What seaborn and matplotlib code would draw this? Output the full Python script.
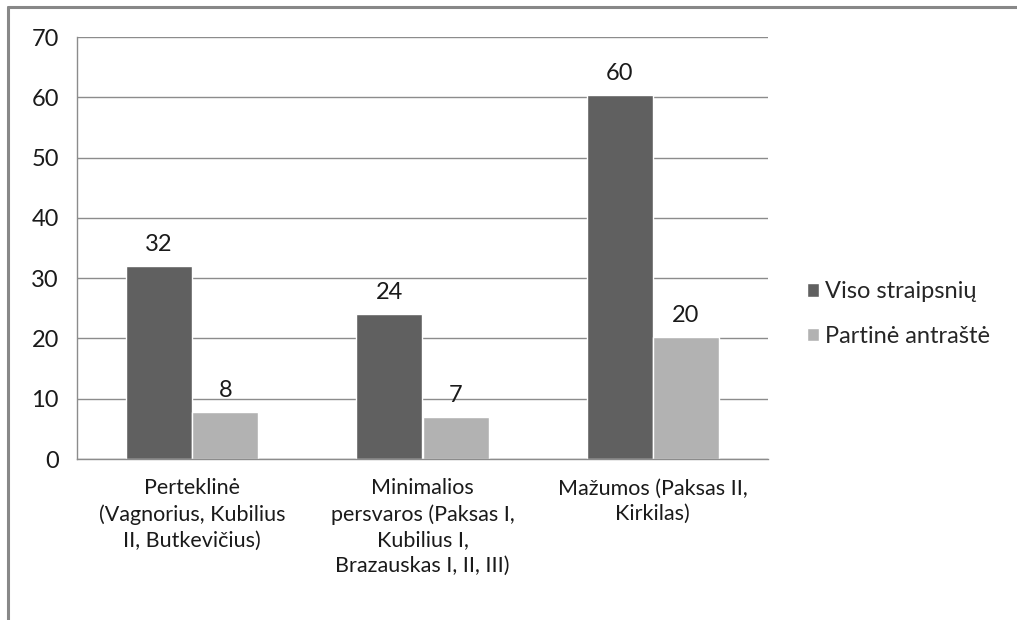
import pandas as pd
import matplotlib
matplotlib.use('Agg')
import matplotlib.pyplot as plt
import seaborn as sns

# chart values
categories = ['Perteklinė\n(Vagnorius, Kubilius\nII, Butkevičius)',
              'Minimalios\npersvaros (Paksas I,\nKubilius I,\nBrazauskas I, II, III)',
              'Mažumos (Paksas II,\nKirkilas)']
series_names = ['Viso straipsnių', 'Partinė antraštė']
viso = [32, 24, 60.4]
partine = [7.8, 7, 20.3]
y_ticks = [0, 10, 20, 30, 40, 50, 60, 70]

df = pd.DataFrame({
    'cat': categories * 2,
    'val': viso + partine,
    'series': [series_names[0]] * 3 + [series_names[1]] * 3,
})

sns.set_style('white')
plt.rcParams['font.family'] = ['Lato', 'DejaVu Sans']

grid_col = '#8c8c8c'
txt_col = '#1a1a1a'
fs = 15.5
fs_num = 17
fig = plt.figure(figsize=(10.17, 6.2), dpi=100)
ax = fig.add_axes([77 / 1017, 1 - 459 / 620, (768 - 77) / 1017, (459 - 37) / 620])

sns.barplot(data=df, x='cat', y='val', hue='series', palette=['#606060', '#b2b2b2'],
            width=0.575, gap=0, ax=ax, legend=True)

for cont in ax.containers:
    ax.bar_label(cont, fmt='%.0f', padding=8, fontsize=fs_num, color=txt_col)

ax.set_ylim(0, 70)
ax.set_yticks(y_ticks)
ax.set_xlim(-0.5, 2.5)
ax.set_xlabel('')
ax.set_ylabel('')
ax.yaxis.grid(True, color=grid_col, lw=1)
ax.set_axisbelow(True)
for s in ['top', 'right']:
    ax.spines[s].set_visible(False)
for s in ['left', 'bottom']:
    ax.spines[s].set_color(grid_col)
    ax.spines[s].set_linewidth(1)

ax.tick_params(axis='y', length=6, color=grid_col, labelsize=fs_num, pad=7, labelcolor=txt_col)
ax.tick_params(axis='x', which='major', length=0, labelsize=fs, pad=14, labelcolor=txt_col)
ax.set_xticks([-0.5, 0.5, 1.5, 2.5], minor=True)
ax.tick_params(axis='x', which='minor', length=7, color=grid_col, direction='out')
for t in ax.get_xticklabels():
    t.set_linespacing(1.35)
    t.set_ha('center')

ax.legend(loc='center left', bbox_to_anchor=((807 - 77) / 691, (459 - 314) / 422), frameon=False,
          fontsize=fs_num, handlelength=0.5, handleheight=0.5, handletextpad=0.25,
          labelspacing=1.0, borderaxespad=0, borderpad=0)

# chart border (left and top visible)
fig.add_artist(plt.Line2D([8 / 1017, 8 / 1017], [0, 1 - 7 / 620], color='#888888', lw=2.2,
                          transform=fig.transFigure))
fig.add_artist(plt.Line2D([8 / 1017, 1], [1 - 7 / 620, 1 - 7 / 620], color='#888888', lw=2.2,
                          transform=fig.transFigure))

fig.savefig('out.png', dpi=100, facecolor='white')
